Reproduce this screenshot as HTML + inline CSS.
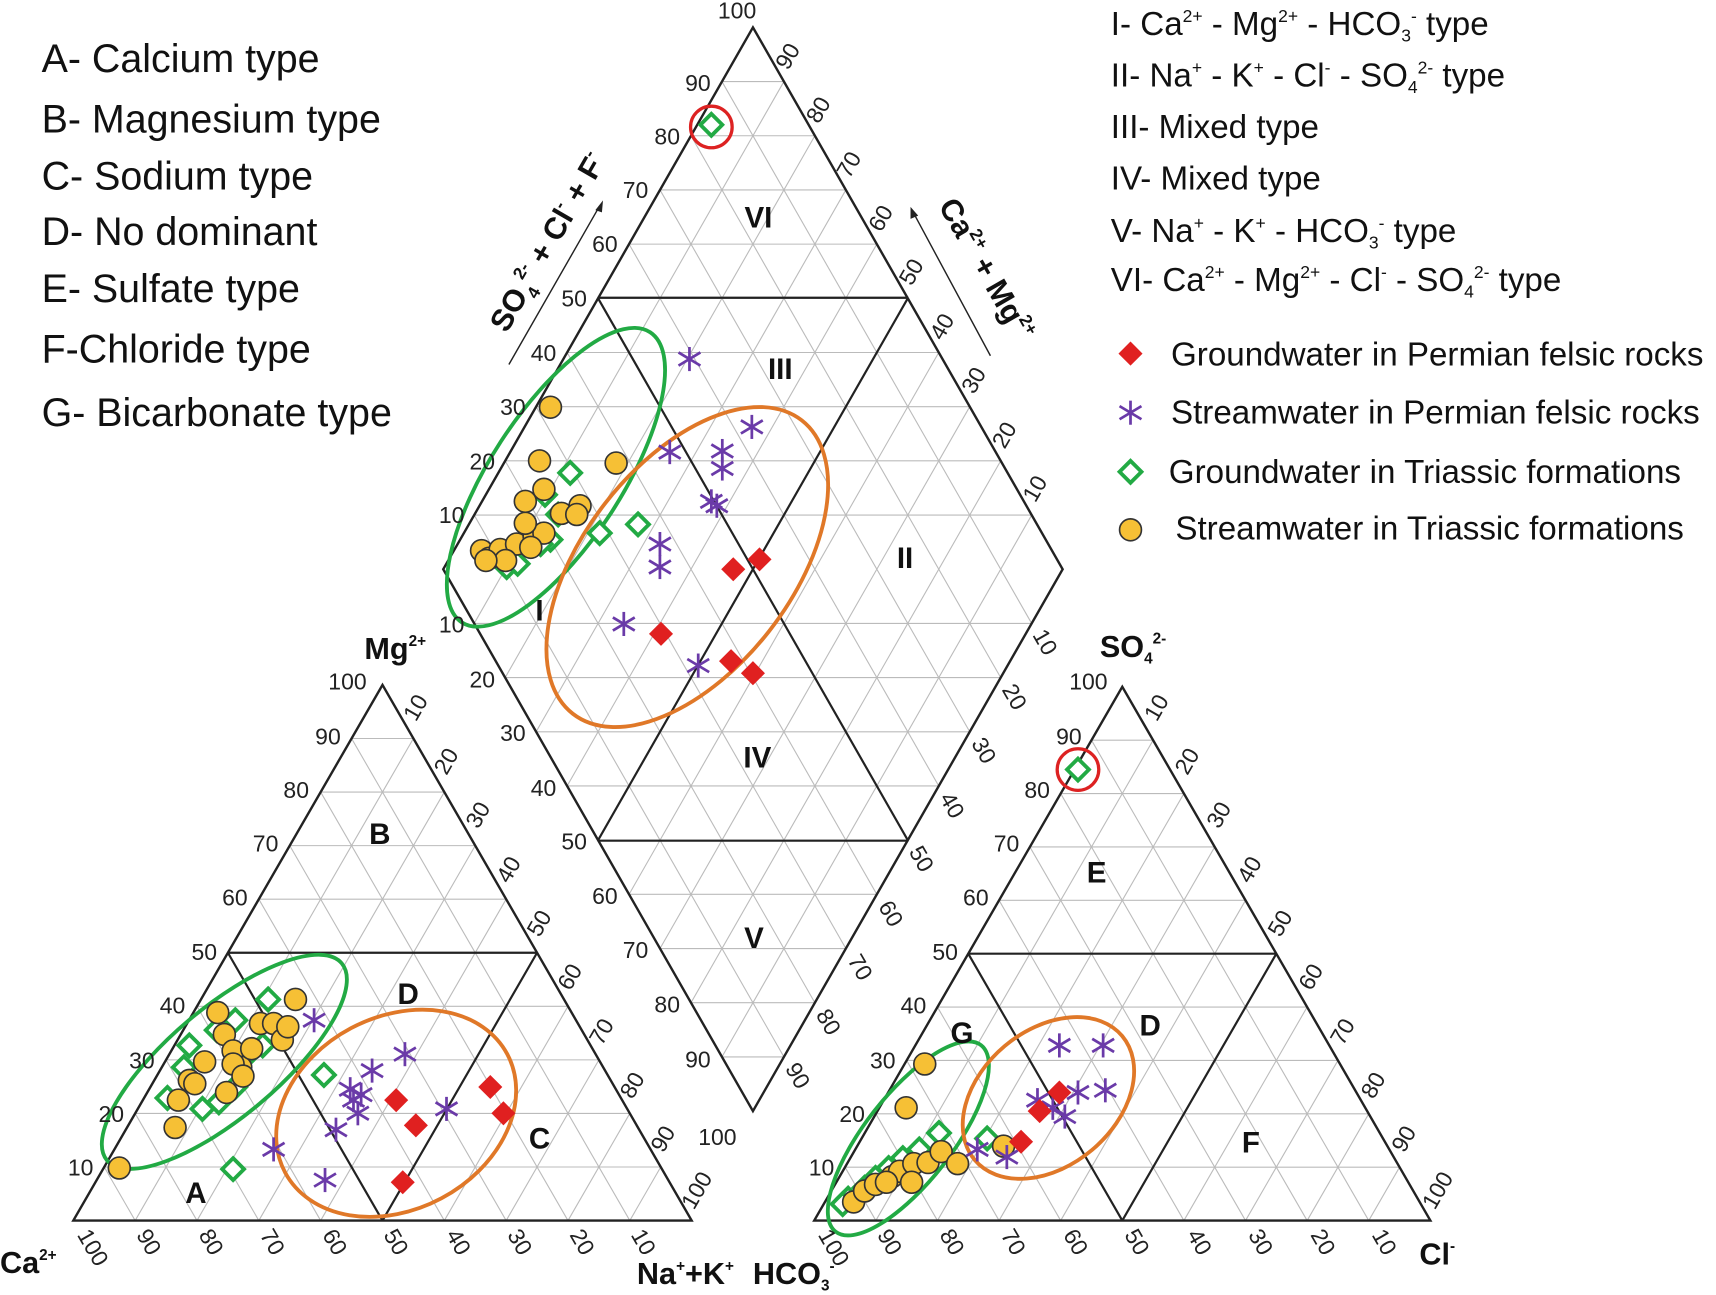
<!DOCTYPE html>
<html><head><meta charset="utf-8"><style>
html,body{margin:0;padding:0;background:#fff;}
svg{display:block;}
text{font-family:"Liberation Sans",sans-serif;fill:#111;}
.tk{font-size:21px;fill:#222;}
.lg{font-size:36px;}
.rg{font-size:30.3px;}
.rl{font-size:27px;font-weight:bold;}
.ax{font-size:28px;font-weight:bold;}
</style></head><body>
<svg id="s" width="1716" height="1295" viewBox="0 0 1568 1183" preserveAspectRatio="none" xmlns="http://www.w3.org/2000/svg">
<g id="grid"></g>
<g id="marks"></g>
<text class="lg" x="38" y="66">A- Calcium type</text>
<text class="lg" x="38" y="121">B- Magnesium type</text>
<text class="lg" x="38" y="173">C- Sodium type</text>
<text class="lg" x="38" y="224">D- No dominant</text>
<text class="lg" x="38" y="276">E- Sulfate type</text>
<text class="lg" x="38" y="331">F-Chloride type</text>
<text class="lg" x="38" y="389">G- Bicarbonate type</text>
<text class="rg" x="1015" y="32">I- Ca<tspan font-size="16" dy="-12">2+</tspan><tspan dy="12"> - Mg</tspan><tspan font-size="16" dy="-12">2+</tspan><tspan dy="12"> - HCO</tspan><tspan font-size="16" dy="6">3</tspan><tspan font-size="16" dy="-18">-</tspan><tspan dy="12"> type</tspan></text>
<text class="rg" x="1015" y="79">II- Na<tspan font-size="16" dy="-12">+</tspan><tspan dy="12"> - K</tspan><tspan font-size="16" dy="-12">+</tspan><tspan dy="12"> - Cl</tspan><tspan font-size="16" dy="-12">-</tspan><tspan dy="12"> - SO</tspan><tspan font-size="16" dy="6">4</tspan><tspan font-size="16" dy="-18">2-</tspan><tspan dy="12"> type</tspan></text>
<text class="rg" x="1015" y="126">III- Mixed  type</text>
<text class="rg" x="1015" y="173">IV- Mixed type</text>
<text class="rg" x="1015" y="221">V- Na<tspan font-size="16" dy="-12">+</tspan><tspan dy="12"> - K</tspan><tspan font-size="16" dy="-12">+</tspan><tspan dy="12"> - HCO</tspan><tspan font-size="16" dy="6">3</tspan><tspan font-size="16" dy="-18">-</tspan><tspan dy="12"> type</tspan></text>
<text class="rg" x="1015" y="266">VI- Ca<tspan font-size="16" dy="-12">2+</tspan><tspan dy="12"> - Mg</tspan><tspan font-size="16" dy="-12">2+</tspan><tspan dy="12"> - Cl</tspan><tspan font-size="16" dy="-12">-</tspan><tspan dy="12"> - SO</tspan><tspan font-size="16" dy="6">4</tspan><tspan font-size="16" dy="-18">2-</tspan><tspan dy="12"> type</tspan></text>
<text class="rg" x="1070" y="334">Groundwater in Permian felsic rocks</text>
<text class="rg" x="1070" y="387">Streamwater in Permian felsic rocks</text>
<text class="rg" x="1068" y="441">Groundwater in Triassic formations</text>
<text class="rg" x="1074" y="493">Streamwater in Triassic formations</text>
<text class="rl" x="693" y="208" text-anchor="middle">VI</text>
<text class="rl" x="713" y="346" text-anchor="middle">III</text>
<text class="rl" x="827" y="519" text-anchor="middle">II</text>
<text class="rl" x="493" y="567" text-anchor="middle">I</text>
<text class="rl" x="692" y="701" text-anchor="middle">IV</text>
<text class="rl" x="689" y="866" text-anchor="middle">V</text>
<text class="rl" x="347" y="771" text-anchor="middle">B</text>
<text class="rl" x="373" y="917" text-anchor="middle">D</text>
<text class="rl" x="493" y="1049" text-anchor="middle">C</text>
<text class="rl" x="179" y="1099" text-anchor="middle">A</text>
<text class="rl" x="1002" y="806" text-anchor="middle">E</text>
<text class="rl" x="879" y="953" text-anchor="middle">G</text>
<text class="rl" x="1051" y="946" text-anchor="middle">D</text>
<text class="rl" x="1143" y="1053" text-anchor="middle">F</text>
<text class="ax" transform="translate(463,305) rotate(-60)">SO<tspan font-size="16" dy="8">4</tspan><tspan font-size="16" dy="-20">2-</tspan><tspan dy="12"> + Cl</tspan><tspan font-size="16" dy="-12">-</tspan><tspan dy="12"> + F</tspan><tspan font-size="16" dy="-12">-</tspan></text>
<text class="ax" transform="translate(857,188) rotate(60)">Ca<tspan font-size="16" dy="-12">2+</tspan><tspan dy="12"> + Mg</tspan><tspan font-size="16" dy="-12">2+</tspan></text>
<text class="ax" x="333" y="602">Mg<tspan font-size="14" dy="-12">2+</tspan></text>
<text class="ax" x="1005" y="600">SO<tspan font-size="14" dy="6">4</tspan><tspan font-size="14" dy="-18">2-</tspan></text>
<text class="ax" x="0" y="1163">Ca<tspan font-size="14" dy="-12">2+</tspan></text>
<text class="ax" x="582" y="1173">Na<tspan font-size="14" dy="-12">+</tspan><tspan dy="12">+K</tspan><tspan font-size="14" dy="-12">+</tspan></text>
<text class="ax" x="688" y="1173">HCO<tspan font-size="14" dy="6">3</tspan><tspan font-size="14" dy="-18">-</tspan></text>
<text class="ax" x="1297" y="1155">Cl<tspan font-size="14" dy="-12">-</tspan></text>
<g id="ticks">
<text class="tk" x="656" y="17">100</text>
<text class="tk" x="626" y="83">90</text>
<text class="tk" x="598" y="132">80</text>
<text class="tk" x="569" y="181">70</text>
<text class="tk" x="541" y="230">60</text>
<text class="tk" x="513" y="280">50</text>
<text class="tk" x="485" y="330">40</text>
<text class="tk" x="457" y="379">30</text>
<text class="tk" x="429" y="429">20</text>
<text class="tk" x="401" y="478">10</text>
<text class="tk" x="401" y="578">10</text>
<text class="tk" x="429" y="628">20</text>
<text class="tk" x="457" y="677">30</text>
<text class="tk" x="485" y="727">40</text>
<text class="tk" x="513" y="776">50</text>
<text class="tk" x="541" y="826">60</text>
<text class="tk" x="569" y="875">70</text>
<text class="tk" x="598" y="925">80</text>
<text class="tk" x="626" y="975">90</text>
<text class="tk" x="638" y="1046">100</text>
<text class="tk" transform="translate(720,65) rotate(-60)">90</text>
<text class="tk" transform="translate(748,114) rotate(-60)">80</text>
<text class="tk" transform="translate(776,164) rotate(-60)">70</text>
<text class="tk" transform="translate(805,213) rotate(-60)">60</text>
<text class="tk" transform="translate(833,262) rotate(-60)">50</text>
<text class="tk" transform="translate(861,312) rotate(-60)">40</text>
<text class="tk" transform="translate(890,361) rotate(-60)">30</text>
<text class="tk" transform="translate(918,411) rotate(-60)">20</text>
<text class="tk" transform="translate(946,460) rotate(-60)">10</text>
<text class="tk" transform="translate(943,580) rotate(60)">10</text>
<text class="tk" transform="translate(915,630) rotate(60)">20</text>
<text class="tk" transform="translate(887,679) rotate(60)">30</text>
<text class="tk" transform="translate(858,729) rotate(60)">40</text>
<text class="tk" transform="translate(830,778) rotate(60)">50</text>
<text class="tk" transform="translate(802,828) rotate(60)">60</text>
<text class="tk" transform="translate(774,877) rotate(60)">70</text>
<text class="tk" transform="translate(745,927) rotate(60)">80</text>
<text class="tk" transform="translate(717,976) rotate(60)">90</text>
<text class="tk" x="62" y="1074">10</text>
<text class="tk" x="90" y="1025">20</text>
<text class="tk" x="118" y="976">30</text>
<text class="tk" x="146" y="926">40</text>
<text class="tk" x="175" y="877">50</text>
<text class="tk" x="203" y="827">60</text>
<text class="tk" x="231" y="778">70</text>
<text class="tk" x="259" y="729">80</text>
<text class="tk" x="288" y="680">90</text>
<text class="tk" x="300" y="630">100</text>
<text class="tk" transform="translate(380,660) rotate(-60)">10</text>
<text class="tk" transform="translate(408,709) rotate(-60)">20</text>
<text class="tk" transform="translate(437,758) rotate(-60)">30</text>
<text class="tk" transform="translate(465,808) rotate(-60)">40</text>
<text class="tk" transform="translate(493,857) rotate(-60)">50</text>
<text class="tk" transform="translate(521,906) rotate(-60)">60</text>
<text class="tk" transform="translate(550,956) rotate(-60)">70</text>
<text class="tk" transform="translate(578,1005) rotate(-60)">80</text>
<text class="tk" transform="translate(606,1054) rotate(-60)">90</text>
<text class="tk" transform="translate(634,1106) rotate(-60)">100</text>
<text class="tk" transform="translate(70,1128) rotate(60)">100</text>
<text class="tk" transform="translate(124,1128) rotate(60)">90</text>
<text class="tk" transform="translate(181,1128) rotate(60)">80</text>
<text class="tk" transform="translate(237,1128) rotate(60)">70</text>
<text class="tk" transform="translate(294,1128) rotate(60)">60</text>
<text class="tk" transform="translate(350,1128) rotate(60)">50</text>
<text class="tk" transform="translate(407,1128) rotate(60)">40</text>
<text class="tk" transform="translate(463,1128) rotate(60)">30</text>
<text class="tk" transform="translate(520,1128) rotate(60)">20</text>
<text class="tk" transform="translate(576,1128) rotate(60)">10</text>
<text class="tk" x="739" y="1074">10</text>
<text class="tk" x="767" y="1025">20</text>
<text class="tk" x="795" y="976">30</text>
<text class="tk" x="823" y="926">40</text>
<text class="tk" x="852" y="877">50</text>
<text class="tk" x="880" y="827">60</text>
<text class="tk" x="908" y="778">70</text>
<text class="tk" x="936" y="729">80</text>
<text class="tk" x="965" y="680">90</text>
<text class="tk" x="977" y="630">100</text>
<text class="tk" transform="translate(1057,660) rotate(-60)">10</text>
<text class="tk" transform="translate(1085,709) rotate(-60)">20</text>
<text class="tk" transform="translate(1114,758) rotate(-60)">30</text>
<text class="tk" transform="translate(1142,808) rotate(-60)">40</text>
<text class="tk" transform="translate(1170,857) rotate(-60)">50</text>
<text class="tk" transform="translate(1198,906) rotate(-60)">60</text>
<text class="tk" transform="translate(1227,956) rotate(-60)">70</text>
<text class="tk" transform="translate(1255,1005) rotate(-60)">80</text>
<text class="tk" transform="translate(1283,1054) rotate(-60)">90</text>
<text class="tk" transform="translate(1311,1106) rotate(-60)">100</text>
<text class="tk" transform="translate(747,1128) rotate(60)">100</text>
<text class="tk" transform="translate(801,1128) rotate(60)">90</text>
<text class="tk" transform="translate(858,1128) rotate(60)">80</text>
<text class="tk" transform="translate(914,1128) rotate(60)">70</text>
<text class="tk" transform="translate(971,1128) rotate(60)">60</text>
<text class="tk" transform="translate(1027,1128) rotate(60)">50</text>
<text class="tk" transform="translate(1084,1128) rotate(60)">40</text>
<text class="tk" transform="translate(1140,1128) rotate(60)">30</text>
<text class="tk" transform="translate(1197,1128) rotate(60)">20</text>
<text class="tk" transform="translate(1253,1128) rotate(60)">10</text>
</g>
</svg>
<script>
const NS="http://www.w3.org/2000/svg";
const G=document.getElementById('grid'),M=document.getElementById('marks');
function el(p,tag,a){const e=document.createElementNS(NS,tag);for(const k in a)e.setAttribute(k,a[k]);p.appendChild(e);return e;}
function ln(x1,y1,x2,y2,c,w){el(G,'line',{x1,y1,x2,y2,stroke:c,'stroke-width':w});}
const gray='#bbb',blk='#222';
function tri(x0,y0,s){
  const h=s*Math.sqrt(3)/2, A=[x0,y0],B=[x0+s,y0],C=[x0+s/2,y0-h];
  const L=(P,Q,t)=>[P[0]+(Q[0]-P[0])*t,P[1]+(Q[1]-P[1])*t];
  for(let i=1;i<10;i++){const t=i/10;
    let p=L(A,C,t),q=L(B,C,t);ln(p[0],p[1],q[0],q[1],gray,1);
    p=L(A,B,t);q=L(A,C,t);ln(p[0],p[1],q[0],q[1],gray,1);
    p=L(A,B,t);q=L(B,C,1-t);ln(p[0],p[1],q[0],q[1],gray,1);}
  let m1=L(A,C,.5),m2=L(B,C,.5),m3=L(A,B,.5);
  ln(m1[0],m1[1],m2[0],m2[1],blk,2);ln(m1[0],m1[1],m3[0],m3[1],blk,2);ln(m2[0],m2[1],m3[0],m3[1],blk,2);
  el(G,'polygon',{points:[A,B,C].map(p=>p.join(',')).join(' '),fill:'none',stroke:blk,'stroke-width':2.2});
}
tri(67,1115,565);tri(744,1115,563);
const T=[688,25],Lf=[405,520],Rt=[971,520],Bt=[688,1015];
const P=(s,t)=>[Bt[0]+s*(Lf[0]-Bt[0])+t*(Rt[0]-Bt[0]),Bt[1]+s*(Lf[1]-Bt[1])+t*(Rt[1]-Bt[1])];
for(let i=1;i<10;i++){const k=i/10;
  let a=P(k,0),b=P(k,1);ln(a[0],a[1],b[0],b[1],gray,1);
  a=P(0,k);b=P(1,k);ln(a[0],a[1],b[0],b[1],gray,1);}
for(let i=1;i<20;i++){const y=25+i*49.5;if(i==10)continue;
  const d=i<10?i*49.5:(20-i)*49.5, hw=d*(283/495);
  ln(688-hw,y,688+hw,y,gray,1);}
[[P(.5,0),P(.5,1)],[P(0,.5),P(1,.5)]].forEach(([a,b])=>ln(a[0],a[1],b[0],b[1],blk,2));
ln(546,272,830,272,blk,2);ln(546,768,830,768,blk,2);
el(G,'polygon',{points:[T,Rt,Bt,Lf].map(p=>p.join(',')).join(' '),fill:'none',stroke:blk,'stroke-width':2.2});
ln(465,333,548,188,'#222',1.3);el(G,'polygon',{points:'551,183 544,192 550,194',fill:'#222'});
ln(905,325,835,195,'#222',1.3);el(G,'polygon',{points:'832,189 832,200 839,197',fill:'#222'});
function ell(cx,cy,rx,ry,rot,c){el(M,'ellipse',{cx,cy,rx,ry,transform:`rotate(${rot} ${cx} ${cy})`,fill:'none',stroke:c,'stroke-width':3.5});}
ell(508,436,158,60,-57,'#22aa44');ell(628,518,170,95,-52,'#e07828');
ell(205,970,140,50,-40,'#22aa44');ell(362,1017,115,88,-28,'#e07828');
ell(830,1040,108,40,-52,'#22aa44');ell(958,1003,88,62,-40,'#e07828');
el(M,'circle',{cx:650,cy:116,r:19,fill:'none',stroke:'#dd2222','stroke-width':3});
el(M,'circle',{cx:985,cy:703,r:19,fill:'none',stroke:'#dd2222','stroke-width':3});
function circ(x,y){el(M,'circle',{cx:x,cy:y,r:10,fill:'#f6c035',stroke:'#333','stroke-width':1.5});}
function gd(x,y){el(M,'polygon',{points:`${x},${y-10} ${x+10},${y} ${x},${y+10} ${x-10},${y}`,fill:'#fff',stroke:'#22aa44','stroke-width':3.5});}
function rd(x,y){el(M,'polygon',{points:`${x},${y-11} ${x+11},${y} ${x},${y+11} ${x-11},${y}`,fill:'#e02020'});}
function st(x,y){const g=el(M,'g',{stroke:'#6a3aa8','stroke-width':2.5});
  [[0,-11,0,11],[-10,-6,10,6],[-10,6,10,-6]].forEach(a=>el(g,'line',{x1:x+a[0],y1:y+a[1],x2:x+a[2],y2:y+a[3]}));}
[[521,432],[583,479],[548,487],[498,452],[503,493],[463,518],[473,515],[494,497],[510,470],[650,114]].forEach(p=>gd(...p));
[[630,328],[687,390],[612,413],[660,412],[660,428],[650,458],[655,462],[603,497],[603,518],[570,570],[638,608]].forEach(p=>st(...p));
[[670,520],[694,511],[604,579],[668,604],[688,615]].forEach(p=>rd(...p));
[[503,372],[493,421],[563,423],[480,458],[497,447],[513,469],[530,462],[527,470],[440,503],[447,510],[457,502],[472,497],[488,490],[497,487],[485,500],[462,512],[444,512],[480,478]].forEach(p=>circ(...p));
[[173,955],[168,975],[185,1013],[200,1007],[215,993],[213,1068],[198,941],[215,932],[245,913],[230,960],[296,982],[153,1003],[240,955]].forEach(p=>gd(...p));
[[109,1067],[160,1030],[163,1005],[173,987],[187,970],[199,925],[205,945],[213,960],[220,975],[230,958],[238,935],[250,935],[258,950],[263,938],[270,913],[207,998],[213,972],[222,983],[178,990]].forEach(p=>circ(...p));
[[287,932],[250,1050],[297,1078],[307,1032],[320,995],[327,1017],[323,1005],[340,978],[370,963],[408,1013],[330,1000]].forEach(p=>st(...p));
[[362,1005],[380,1028],[448,993],[460,1017],[368,1080]].forEach(p=>rd(...p));
[[858,1035],[840,1050],[825,1058],[812,1067],[800,1076],[790,1085],[775,1095],[902,1040],[770,1100],[985,703]].forEach(p=>gd(...p));
[[845,972],[828,1012],[780,1098],[790,1088],[800,1082],[815,1075],[822,1070],[835,1063],[848,1062],[860,1052],[875,1063],[917,1047],[833,1080],[810,1080]].forEach(p=>circ(...p));
[[968,955],[1008,955],[1010,996],[948,1005],[985,998],[973,1020],[893,1050],[920,1057],[962,1012]].forEach(p=>st(...p));
[[968,998],[950,1015],[933,1043]].forEach(p=>rd(...p));
rd(1033,323);st(1033,377);gd(1033,431);circ(1033,484);
</script>
</body></html>
